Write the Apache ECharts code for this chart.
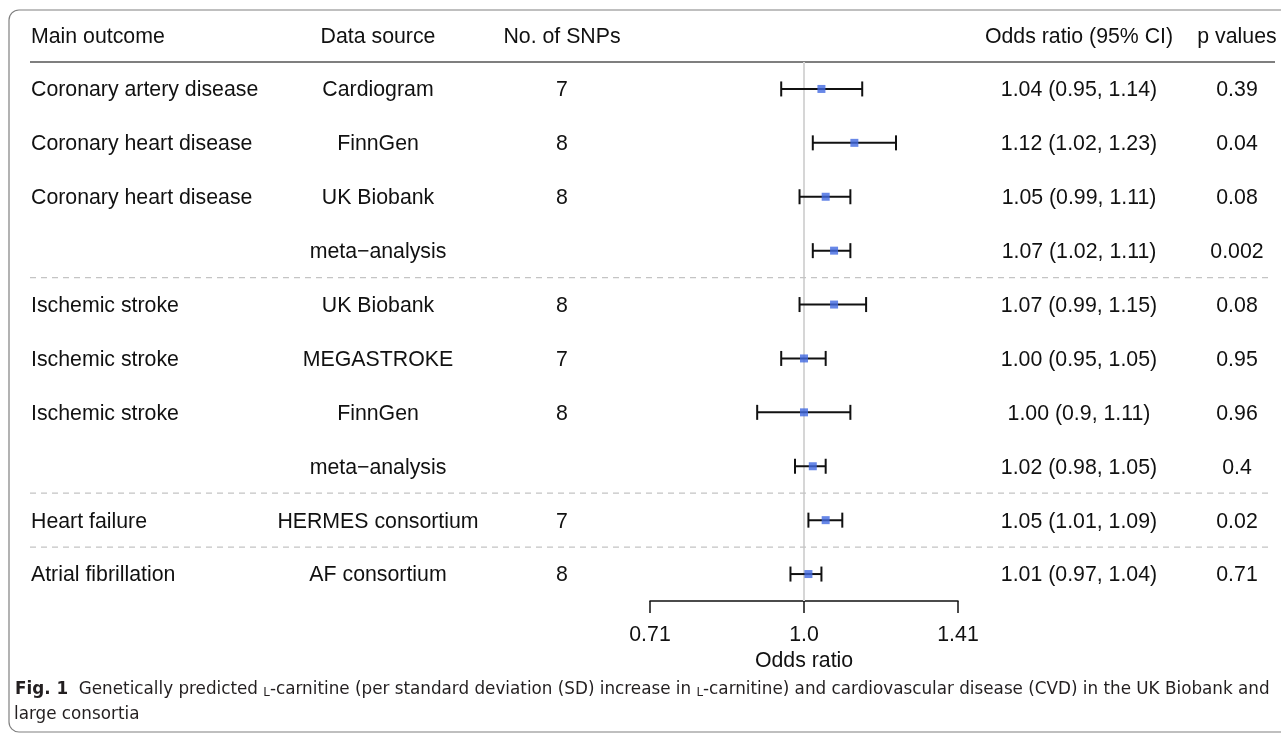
<!DOCTYPE html>
<html>
<head>
<meta charset="utf-8">
<title>Forest plot</title>
<script src="https://cdn.jsdelivr.net/npm/echarts@6/dist/echarts.min.js"></script>
<style>
	html, body { margin: 0; padding: 0; background: #fff; }
	#myChart { width: 1281px; height: 734px; }
</style>
</head>
<body>
<div id="myChart"></div>
<script>
// rows of the table, top to bottom
var outcomes = ['Coronary artery disease', 'Coronary heart disease', 'Coronary heart disease', '',
	'Ischemic stroke', 'Ischemic stroke', 'Ischemic stroke', '', 'Heart failure', 'Atrial fibrillation'];
var sources = ['Cardiogram', 'FinnGen', 'UK Biobank', 'meta\u2212analysis', 'UK Biobank', 'MEGASTROKE',
	'FinnGen', 'meta\u2212analysis', 'HERMES consortium', 'AF consortium'];
var snps = [7, 8, 8, null, 8, 7, 8, null, 7, 8];
var oddsRatio = [1.04, 1.12, 1.05, 1.07, 1.07, 1.00, 1.00, 1.02, 1.05, 1.01];
var ciLower = [0.95, 1.02, 0.99, 1.02, 0.99, 0.95, 0.90, 0.98, 1.01, 0.97];
var ciUpper = [1.14, 1.23, 1.11, 1.11, 1.15, 1.05, 1.11, 1.05, 1.09, 1.04];
var pValues = [0.39, 0.04, 0.08, 0.002, 0.08, 0.95, 0.96, 0.4, 0.02, 0.71];
var groupBreaks = [3, 7, 8]; // dashed line below these rows
var tickValues = [Math.SQRT1_2, 1, Math.SQRT2];
var tickLabels = ['0.71', '1.0', '1.41'];

var rowIdx = outcomes.map(function (d, i) { return i; });
var orText = oddsRatio.map(function (v, i) {
	return v.toFixed(2) + ' (' + ciLower[i] + ', ' + ciUpper[i] + ')';
});

var FONT = '"Liberation Sans", Arial, Helvetica, sans-serif';
var CAP_FONT = '"DejaVu Sans", sans-serif';
var TXT = '#111';

// text column drawn on the table grid, y from the category axis
function textColumn(name, values, x, align) {
	return {
		name: name,
		type: 'custom',
		xAxisIndex: 1,
		yAxisIndex: 1,
		silent: true,
		data: values.map(function (v, i) { return [x, i]; }),
		renderItem: function (params, api) {
			var p = api.coord([api.value(0), api.value(1)]);
			var v = values[params.dataIndex];
			return {
				type: 'text',
				x: p[0],
				y: p[1] + 1.5,
				style: {
					text: v == null ? '' : String(v),
					align: align,
					verticalAlign: 'middle',
					fontSize: 21.3,
					fontFamily: FONT,
					fill: TXT
				}
			};
		}
	};
}

var myChart = echarts.init(document.getElementById('myChart'));

var option = {
	backgroundColor: '#fff',
	animation: false,
	grid: [
		{left: 650, width: 308, top: 62, height: 539},
		{left: 0, width: 1281, top: 62, height: 539}
	],
	xAxis: [{
		type: 'log',
		gridIndex: 0,
		logBase: Math.SQRT2,
		min: Math.SQRT1_2,
		max: Math.SQRT2,
		position: 'bottom',
		name: 'Odds ratio',
		nameLocation: 'middle',
		nameGap: 49,
		nameTextStyle: {fontSize: 21.3, fontFamily: FONT, color: TXT},
		splitLine: {show: false},
		axisLine: {show: true, lineStyle: {color: '#111', width: 1.5}},
		axisTick: {show: true, length: 12, customValues: tickValues, lineStyle: {color: '#111', width: 1.5}},
		axisLabel: {
			customValues: tickValues,
			margin: 24,
			fontSize: 21.3,
			fontFamily: FONT,
			color: TXT,
			formatter: function (v) {
				var best = 0;
				tickValues.forEach(function (t, i) {
					if (Math.abs(t - v) < Math.abs(tickValues[best] - v)) best = i;
				});
				return tickLabels[best];
			}
		}
	}, {
		type: 'value',
		gridIndex: 1,
		min: 0,
		max: 1281,
		show: false
	}],
	yAxis: [{
		type: 'category',
		gridIndex: 0,
		data: rowIdx,
		inverse: true,
		show: false
	}, {
		type: 'category',
		gridIndex: 1,
		data: rowIdx,
		inverse: true,
		show: false
	}],
	graphic: [{
		type: 'rect',
		shape: {x: 9, y: 10, width: 1300, height: 722, r: 10},
		style: {fill: 'none', stroke: '#808080', lineWidth: 1.2},
		silent: true
	}, {
		type: 'line',
		shape: {x1: 30, y1: 62, x2: 1275, y2: 62},
		style: {stroke: '#555', lineWidth: 1.5},
		silent: true
	}].concat([
		['Main outcome', 31, 'left'],
		['Data source', 378, 'center'],
		['No. of SNPs', 562, 'center'],
		['Odds ratio (95% CI)', 1079, 'center'],
		['p values', 1237, 'center']
	].map(function (h) {
		return {
			type: 'text',
			x: h[1],
			y: 37,
			style: {text: h[0], align: h[2], verticalAlign: 'middle', fontSize: 21.3, fontFamily: FONT, fill: TXT},
			silent: true
		};
	})).concat([{
		type: 'text',
		x: 15,
		y: 690,
		style: {
			text: '{b|Fig. 1}  Genetically predicted {sc|L}-carnitine (per standard deviation (SD) increase in {sc|L}-carnitine) and cardiovascular disease (CVD) in the UK Biobank and',
			verticalAlign: 'middle',
			fontSize: 16.8,
			fontFamily: CAP_FONT,
			fill: '#231f20',
			rich: {
				b: {fontWeight: 'bold', fontSize: 16.8, fontFamily: CAP_FONT, fill: '#231f20'},
				sc: {fontSize: 11.8, fontFamily: CAP_FONT, fill: '#231f20', verticalAlign: 'bottom'}
			}
		},
		silent: true
	}, {
		type: 'text',
		x: 14,
		y: 715,
		style: {
			text: 'large consortia',
			verticalAlign: 'middle',
			fontSize: 16.8,
			fontFamily: CAP_FONT,
			fill: '#231f20'
		},
		silent: true
	}]),
	series: [{
		name: 'ci',
		type: 'custom',
		xAxisIndex: 0,
		yAxisIndex: 0,
		silent: true,
		data: rowIdx.map(function (i) { return [ciLower[i], ciUpper[i], i]; }),
		renderItem: function (params, api) {
			var a = api.coord([api.value(0), api.value(2)]);
			var b = api.coord([api.value(1), api.value(2)]);
			var h = 7.5;
			var st = {stroke: '#111', lineWidth: 2};
			return {
				type: 'group',
				children: [
					{type: 'line', shape: {x1: a[0], y1: a[1], x2: b[0], y2: b[1]}, style: st},
					{type: 'line', shape: {x1: a[0], y1: a[1] - h, x2: a[0], y2: a[1] + h}, style: st},
					{type: 'line', shape: {x1: b[0], y1: b[1] - h, x2: b[0], y2: b[1] + h}, style: st}
				]
			};
		}
	}, {
		name: 'odds ratio',
		type: 'scatter',
		xAxisIndex: 0,
		yAxisIndex: 0,
		symbol: 'rect',
		symbolSize: 8,
		z: 5,
		itemStyle: {color: '#4169E1'},
		data: rowIdx.map(function (i) { return [oddsRatio[i], i]; }),
		markLine: {
			silent: true,
			symbol: ['none', 'none'],
			label: {show: false},
			lineStyle: {color: '#d6d6d6', width: 2, type: 'solid'},
			z: 1,
			data: [{xAxis: 1}]
		}
	}, {
		name: 'separators',
		type: 'custom',
		xAxisIndex: 1,
		yAxisIndex: 1,
		silent: true,
		data: groupBreaks.map(function (r) { return [r]; }),
		renderItem: function (params, api) {
			var r = api.value(0);
			var y = (api.coord([0, r])[1] + api.coord([0, r + 1])[1]) / 2;
			return {
				type: 'line',
				shape: {x1: 30, y1: y, x2: 1270, y2: y},
				style: {stroke: '#c4c4c4', lineWidth: 1.3, lineDash: [6, 5]}
			};
		}
	},
		textColumn('outcome', outcomes, 31, 'left'),
		textColumn('source', sources, 378, 'center'),
		textColumn('snps', snps, 562, 'center'),
		textColumn('or', orText, 1079, 'center'),
		textColumn('p', pValues, 1237, 'center')
	]
};
myChart.setOption(option);
</script>
</body>
</html>
